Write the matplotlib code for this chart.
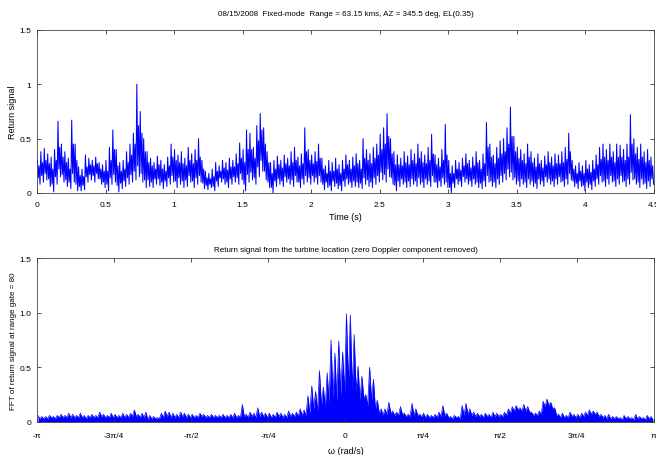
import numpy as np
import matplotlib
matplotlib.use("Agg")
import matplotlib.pyplot as plt

plt.rcParams["font.family"] = ["Liberation Sans", "DejaVu Sans"]

# return signal, read per 0.025 s bin:
# spike tops, dense band top, dense band bottom, dips
t_step = 0.025
sig_peak = [
    0.30, 0.38, 0.41, 0.36, 0.33, 0.40, 0.66, 0.45, 0.38, 0.32,
    0.67, 0.45, 0.24, 0.22, 0.35, 0.32, 0.30, 0.33, 0.28, 0.26,
    0.30, 0.42, 0.58, 0.40, 0.28, 0.30, 0.38, 0.45, 0.55, 1.00,
    0.75, 0.50, 0.38, 0.32, 0.28, 0.34, 0.30, 0.26, 0.33, 0.45,
    0.40, 0.35, 0.38, 0.32, 0.42, 0.36, 0.40, 0.50, 0.30, 0.20,
    0.18, 0.22, 0.28, 0.25, 0.30, 0.28, 0.32, 0.30, 0.36, 0.46,
    0.40, 0.58, 0.55, 0.42, 0.62, 0.73, 0.60, 0.38, 0.28, 0.30,
    0.34, 0.30, 0.35, 0.32, 0.38, 0.42, 0.33, 0.36, 0.60, 0.40,
    0.35, 0.38, 0.45, 0.32, 0.25, 0.30, 0.28, 0.32, 0.26, 0.30,
    0.35, 0.30, 0.33, 0.36, 0.30, 0.50, 0.40, 0.36, 0.42, 0.45,
    0.54, 0.60, 0.73, 0.50, 0.38, 0.35, 0.32, 0.38, 0.34, 0.40,
    0.36, 0.45, 0.38, 0.35, 0.42, 0.54, 0.35, 0.32, 0.40, 0.63,
    0.30, 0.25, 0.30, 0.28, 0.32, 0.36, 0.30, 0.33, 0.38, 0.30,
    0.36, 0.65, 0.45, 0.35, 0.42, 0.48, 0.50, 0.60, 0.79, 0.52,
    0.42, 0.40, 0.36, 0.45, 0.38, 0.32, 0.36, 0.30, 0.34, 0.38,
    0.33, 0.36, 0.35, 0.38, 0.42, 0.55, 0.30, 0.25, 0.28, 0.25,
    0.30, 0.26, 0.30, 0.35, 0.42, 0.45, 0.40, 0.45, 0.38, 0.45,
    0.44, 0.40, 0.45, 0.72, 0.50, 0.42, 0.45, 0.38, 0.40, 0.33,
]
sig_band_hi = [
    0.25, 0.28, 0.30, 0.27, 0.22, 0.30, 0.42, 0.33, 0.28, 0.22,
    0.45, 0.30, 0.16, 0.15, 0.24, 0.26, 0.25, 0.27, 0.22, 0.20,
    0.20, 0.30, 0.40, 0.25, 0.20, 0.22, 0.28, 0.35, 0.45, 0.62,
    0.55, 0.38, 0.28, 0.25, 0.22, 0.26, 0.22, 0.20, 0.25, 0.33,
    0.30, 0.28, 0.27, 0.25, 0.30, 0.27, 0.30, 0.33, 0.22, 0.14,
    0.13, 0.15, 0.20, 0.20, 0.23, 0.21, 0.24, 0.24, 0.27, 0.32,
    0.28, 0.40, 0.40, 0.32, 0.48, 0.58, 0.45, 0.28, 0.18, 0.22,
    0.26, 0.23, 0.27, 0.25, 0.28, 0.30, 0.25, 0.27, 0.38, 0.30,
    0.27, 0.29, 0.32, 0.22, 0.18, 0.20, 0.20, 0.22, 0.18, 0.22,
    0.26, 0.22, 0.25, 0.27, 0.22, 0.32, 0.30, 0.27, 0.32, 0.35,
    0.40, 0.45, 0.52, 0.36, 0.26, 0.26, 0.25, 0.28, 0.26, 0.30,
    0.27, 0.32, 0.28, 0.27, 0.30, 0.36, 0.26, 0.24, 0.30, 0.35,
    0.18, 0.18, 0.22, 0.21, 0.25, 0.27, 0.23, 0.25, 0.28, 0.22,
    0.27, 0.42, 0.33, 0.27, 0.32, 0.36, 0.38, 0.45, 0.52, 0.38,
    0.32, 0.30, 0.27, 0.33, 0.28, 0.24, 0.27, 0.23, 0.26, 0.28,
    0.25, 0.27, 0.27, 0.28, 0.31, 0.38, 0.22, 0.18, 0.20, 0.18,
    0.22, 0.19, 0.22, 0.26, 0.31, 0.33, 0.30, 0.33, 0.28, 0.33,
    0.33, 0.30, 0.33, 0.45, 0.36, 0.31, 0.33, 0.28, 0.30, 0.25,
]
sig_band_lo = [
    0.14, 0.16, 0.18, 0.13, 0.08, 0.15, 0.22, 0.17, 0.12, 0.10,
    0.18, 0.08, 0.06, 0.07, 0.15, 0.17, 0.16, 0.18, 0.13, 0.10,
    0.08, 0.14, 0.17, 0.07, 0.09, 0.11, 0.14, 0.17, 0.20, 0.25,
    0.18, 0.12, 0.12, 0.10, 0.13, 0.13, 0.10, 0.11, 0.14, 0.16,
    0.11, 0.14, 0.11, 0.12, 0.16, 0.11, 0.14, 0.16, 0.09, 0.07,
    0.08, 0.06, 0.11, 0.14, 0.13, 0.10, 0.13, 0.15, 0.14, 0.18,
    0.08, 0.17, 0.19, 0.14, 0.24, 0.30, 0.20, 0.10, 0.05, 0.11,
    0.13, 0.11, 0.15, 0.13, 0.12, 0.16, 0.10, 0.13, 0.16, 0.14,
    0.16, 0.14, 0.16, 0.08, 0.10, 0.07, 0.11, 0.09, 0.07, 0.11,
    0.13, 0.10, 0.11, 0.10, 0.09, 0.14, 0.12, 0.10, 0.14, 0.16,
    0.19, 0.17, 0.22, 0.14, 0.07, 0.11, 0.13, 0.10, 0.11, 0.13,
    0.11, 0.14, 0.10, 0.13, 0.11, 0.16, 0.10, 0.11, 0.14, 0.10,
    0.05, 0.09, 0.13, 0.11, 0.15, 0.13, 0.11, 0.13, 0.10, 0.09,
    0.11, 0.16, 0.11, 0.10, 0.13, 0.16, 0.18, 0.22, 0.19, 0.14,
    0.11, 0.13, 0.10, 0.13, 0.11, 0.09, 0.13, 0.11, 0.15, 0.13,
    0.11, 0.13, 0.15, 0.11, 0.13, 0.18, 0.11, 0.09, 0.11, 0.07,
    0.10, 0.08, 0.11, 0.13, 0.16, 0.11, 0.13, 0.16, 0.11, 0.13,
    0.16, 0.11, 0.13, 0.19, 0.13, 0.10, 0.13, 0.09, 0.11, 0.13,
]
sig_dip = [
    0.08, 0.10, 0.12, 0.06, 0.01, 0.08, 0.15, 0.10, 0.06, 0.04,
    0.10, 0.02, 0.02, 0.03, 0.10, 0.12, 0.10, 0.13, 0.08, 0.05,
    0.02, 0.08, 0.10, 0.01, 0.04, 0.06, 0.08, 0.10, 0.12, 0.15,
    0.10, 0.05, 0.06, 0.05, 0.08, 0.07, 0.04, 0.06, 0.08, 0.10,
    0.05, 0.08, 0.05, 0.06, 0.10, 0.05, 0.08, 0.10, 0.04, 0.03,
    0.05, 0.02, 0.06, 0.10, 0.08, 0.05, 0.08, 0.10, 0.08, 0.12,
    0.02, 0.10, 0.12, 0.08, 0.15, 0.20, 0.12, 0.05, 0.00, 0.06,
    0.08, 0.06, 0.10, 0.08, 0.06, 0.10, 0.05, 0.08, 0.10, 0.08,
    0.10, 0.08, 0.10, 0.03, 0.05, 0.02, 0.06, 0.04, 0.02, 0.06,
    0.08, 0.05, 0.06, 0.05, 0.04, 0.08, 0.06, 0.05, 0.08, 0.10,
    0.12, 0.10, 0.15, 0.08, 0.02, 0.06, 0.08, 0.05, 0.06, 0.08,
    0.06, 0.08, 0.05, 0.08, 0.06, 0.10, 0.05, 0.06, 0.08, 0.05,
    0.00, 0.05, 0.08, 0.06, 0.10, 0.08, 0.06, 0.08, 0.05, 0.04,
    0.06, 0.10, 0.06, 0.05, 0.08, 0.10, 0.12, 0.15, 0.12, 0.08,
    0.06, 0.08, 0.05, 0.08, 0.06, 0.04, 0.08, 0.06, 0.10, 0.08,
    0.06, 0.08, 0.10, 0.06, 0.08, 0.12, 0.06, 0.04, 0.06, 0.02,
    0.05, 0.03, 0.06, 0.08, 0.10, 0.06, 0.08, 0.10, 0.06, 0.08,
    0.10, 0.06, 0.08, 0.12, 0.08, 0.05, 0.08, 0.04, 0.06, 0.08,
]

# FFT magnitude, read per pi/80 bin from -pi to pi: tops and floor
w_step = np.pi / 80
fft_hi = [
    0.06, 0.05, 0.05, 0.06, 0.05, 0.06, 0.07, 0.06, 0.08, 0.07,
    0.06, 0.08, 0.06, 0.06, 0.07, 0.06, 0.09, 0.07, 0.06, 0.08,
    0.07, 0.06, 0.08, 0.07, 0.08, 0.11, 0.07, 0.08, 0.09, 0.06,
    0.05, 0.04, 0.08, 0.10, 0.09, 0.08, 0.07, 0.09, 0.08, 0.07,
    0.07, 0.06, 0.08, 0.07, 0.06, 0.07, 0.06, 0.06, 0.07, 0.06,
    0.07, 0.08, 0.06, 0.16, 0.07, 0.09, 0.08, 0.13, 0.09, 0.08,
    0.08, 0.07, 0.09, 0.08, 0.07, 0.10, 0.08, 0.09, 0.12, 0.11,
    0.24, 0.33, 0.28, 0.47, 0.32, 0.45, 0.75, 0.63, 0.74, 0.64,
    0.99, 0.98, 0.80, 0.51, 0.42, 0.25, 0.50, 0.39, 0.20, 0.12,
    0.12, 0.18, 0.10, 0.09, 0.14, 0.08, 0.07, 0.17, 0.12, 0.07,
    0.08, 0.07, 0.06, 0.07, 0.09, 0.15, 0.08, 0.05, 0.06, 0.05,
    0.15, 0.17, 0.12, 0.09, 0.08, 0.07, 0.08, 0.07, 0.09, 0.08,
    0.07, 0.09, 0.12, 0.14, 0.15, 0.13, 0.16, 0.14, 0.09, 0.08,
    0.10, 0.19, 0.21, 0.18, 0.13, 0.07, 0.08, 0.06, 0.09, 0.07,
    0.07, 0.08, 0.09, 0.11, 0.10, 0.09, 0.07, 0.06, 0.07, 0.05,
    0.05, 0.04, 0.06, 0.05, 0.04, 0.07, 0.05, 0.04, 0.06, 0.05,
]
fft_lo = [
    0.03, 0.03, 0.03, 0.04, 0.03, 0.04, 0.04, 0.04, 0.04, 0.04,
    0.04, 0.04, 0.03, 0.04, 0.04, 0.04, 0.05, 0.04, 0.04, 0.04,
    0.04, 0.04, 0.04, 0.04, 0.05, 0.05, 0.04, 0.04, 0.02, 0.03,
    0.03, 0.03, 0.04, 0.05, 0.04, 0.04, 0.04, 0.05, 0.04, 0.04,
    0.04, 0.04, 0.05, 0.04, 0.04, 0.04, 0.04, 0.04, 0.04, 0.04,
    0.04, 0.04, 0.04, 0.05, 0.04, 0.05, 0.04, 0.05, 0.05, 0.04,
    0.04, 0.04, 0.05, 0.04, 0.04, 0.05, 0.05, 0.05, 0.06, 0.06,
    0.08, 0.12, 0.10, 0.15, 0.13, 0.18, 0.22, 0.20, 0.25, 0.28,
    0.35, 0.30, 0.28, 0.20, 0.22, 0.15, 0.20, 0.12, 0.08, 0.06,
    0.07, 0.08, 0.06, 0.06, 0.07, 0.05, 0.05, 0.06, 0.06, 0.05,
    0.04, 0.04, 0.04, 0.04, 0.05, 0.06, 0.04, 0.03, 0.04, 0.03,
    0.06, 0.07, 0.06, 0.05, 0.05, 0.04, 0.05, 0.04, 0.05, 0.05,
    0.05, 0.06, 0.08, 0.10, 0.11, 0.10, 0.10, 0.09, 0.06, 0.06,
    0.07, 0.14, 0.15, 0.12, 0.06, 0.04, 0.04, 0.04, 0.05, 0.04,
    0.04, 0.05, 0.06, 0.07, 0.07, 0.05, 0.04, 0.03, 0.03, 0.03,
    0.03, 0.02, 0.03, 0.03, 0.02, 0.03, 0.03, 0.02, 0.03, 0.02,
]

w_ticks = [-np.pi, -3 * np.pi / 4, -np.pi / 2, -np.pi / 4, 0,
           np.pi / 4, np.pi / 2, 3 * np.pi / 4, np.pi]
w_labels = ["-\u03c0", "-3\u03c0/4", "-\u03c0/2", "-\u03c0/4", "0",
            "\u03c0/4", "\u03c0/2", "3\u03c0/4", "\u03c0"]


def zigzag(start, step, *levels):
    # visit each read level in turn inside every bin
    k = len(levels)
    n = len(levels[0])
    x = np.empty(k * n)
    y = np.empty(k * n)
    for j, lev in enumerate(levels):
        x[j::k] = start + (np.arange(n) + (j + 0.5) / k) * step
        y[j::k] = lev
    return x, y


def matlab_style(ax, pad):
    ax.tick_params(direction="in", top=True, right=True, length=3,
                   width=0.6, labelsize=6, color="#333333")
    ax.tick_params(axis="x", pad=pad)
    ax.tick_params(axis="y", pad=4)
    for s in ax.spines.values():
        s.set_linewidth(0.6)
        s.set_color("#444444")


blue = "#0000ff"
fig = plt.figure(figsize=(6.56, 4.56), dpi=100)

ax1 = fig.add_axes([0.0564, 0.5746, 0.9405, 0.3575])
tx, ty = zigzag(0.0, t_step, sig_peak, sig_band_lo, sig_band_hi, sig_dip)
ax1.plot(tx, ty, color=blue, lw=0.75)
ax1.set_xlim(0, 4.5)
ax1.set_ylim(0, 1.5)
ax1.set_xticks(np.arange(0, 4.51, 0.5))
ax1.set_xticklabels(["0", "0.5", "1", "1.5", "2", "2.5", "3", "3.5", "4", "4.5"])
ax1.set_yticks([0, 0.5, 1, 1.5])
ax1.set_yticklabels(["0", "0.5", "1", "1.5"])
ax1.set_xlabel("Time (s)", fontsize=6.5, labelpad=3)
ax1.set_ylabel("Return signal", fontsize=6.5, labelpad=1.5)
ax1.set_title("08/15/2008  Fixed-mode  Range = 63.15 kms, AZ = 345.5 deg, EL(0.35)",
              fontsize=5.75, pad=11)
matlab_style(ax1, 6)

ax2 = fig.add_axes([0.0564, 0.0724, 0.9405, 0.3596])
wx, wy = zigzag(-np.pi, w_step, fft_hi, fft_lo)
ax2.fill_between(wx, 0, wy, color=blue, lw=0)
ax2.plot(wx, wy, color=blue, lw=0.5)
ax2.set_xlim(-np.pi, np.pi)
ax2.set_ylim(0, 1.5)
ax2.set_xticks(w_ticks)
ax2.set_xticklabels(w_labels)
ax2.set_yticks([0, 0.5, 1.0, 1.5])
ax2.set_yticklabels(["0", "0.5", "1.0", "1.5"])
ax2.set_xlabel("\u03c9 (rad/s)", fontsize=6.5, labelpad=4.5)
ax2.set_ylabel("FFT of return signal at range gate = 80", fontsize=5.8, labelpad=1.5)
ax2.set_title("Return signal from the turbine location (zero Doppler component removed)",
              fontsize=5.75, pad=5)
matlab_style(ax2, 7.5)

fig.savefig("out.png", dpi=100)
